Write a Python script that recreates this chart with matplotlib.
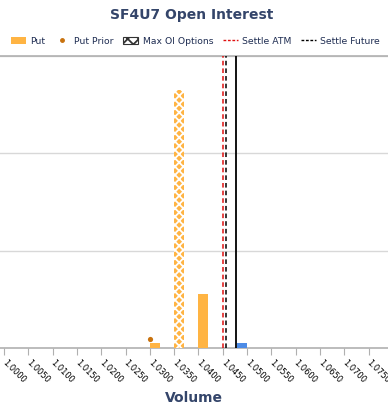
import matplotlib
matplotlib.use("Agg")
import matplotlib.pyplot as plt
import matplotlib.transforms as mtransforms
from matplotlib.patches import Patch
from matplotlib.lines import Line2D

# ---- data ----
strikes = [1.0000, 1.0050, 1.0100, 1.0150, 1.0200, 1.0250, 1.0300, 1.0350,
           1.0400, 1.0450, 1.0500, 1.0550, 1.0600, 1.0650, 1.0700, 1.0750]
tick_labels = ["1.0000", "1.0050", "1.0100", "1.0150", "1.0200", "1.0250",
               "1.0300", "1.0350", "1.0400", "1.0450", "1.0500", "1.0550",
               "1.0600", "1.0650", "1.0700", "1.0750"]
put_strikes = [1.0300, 1.0350, 1.0400]
put_oi = [50, 2650, 555]
put_max_flags = [False, True, False]
call_strikes = [1.0500]
call_oi = [50]
put_prior_strikes = [1.0300]
put_prior_oi = [95]
settle_atm = 1.0450
settle_future = 1.0456
last_price = 1.0477

ORANGE = "#FFB443"
BLUE = "#4C8BE6"
DOT = "#C8720E"
NAVY = "#1F2D52"
TITLE_C = "#34456A"

plt.rcParams["hatch.linewidth"] = 1.3

fig = plt.figure(figsize=(3.88, 4.09), dpi=100)
ax = fig.add_axes([0.0, 1 - 348 / 409, 1.0, (348 - 56) / 409])

bw = 0.00205
for s, v, m in zip(put_strikes, put_oi, put_max_flags):
    if m:
        ax.bar(s, v, width=bw, align="edge", color=ORANGE, edgecolor="white",
               hatch="xxxx", linewidth=0, zorder=3)
    else:
        ax.bar(s, v, width=bw, align="edge", color=ORANGE, linewidth=0, zorder=3)
ax.bar(call_strikes, call_oi, width=-bw, align="edge", color=BLUE, linewidth=0, zorder=3)
ax.scatter(put_prior_strikes, put_prior_oi, s=14, color=DOT, zorder=4, linewidths=0)

ax.axvline(settle_atm, color="#E01010", linestyle=(0, (3, 2)), linewidth=1.1, zorder=5)
ax.axvline(settle_future, color="black", linestyle=(0, (3, 2)), linewidth=1.1, zorder=5)
ax.axvline(last_price, color="black", linestyle="-", linewidth=1.3, zorder=5)

ax.set_xlim(0.99918, 1.07897)
ax.set_ylim(0, 3000)
ax.set_yticks([1000, 2000, 3000])
ax.yaxis.grid(True, color="#d8d8d8", linewidth=1.0)
ax.set_axisbelow(True)
ax.tick_params(axis="y", left=False, labelleft=False)
for sp in ["left", "right"]:
    ax.spines[sp].set_visible(False)
ax.spines["top"].set_color("#b0b0b0")
ax.spines["bottom"].set_color("#b0b0b0")
ax.spines["top"].set_linewidth(1.2)
ax.spines["bottom"].set_linewidth(1.2)

ax.set_xticks(strikes)
ax.set_xticklabels(tick_labels, rotation=-45, ha="left", va="top",
                   rotation_mode="anchor", fontsize=6, color="black")
ax.tick_params(axis="x", length=5, color="#b0b0b0", pad=2.5)
offset = mtransforms.ScaledTranslation(2 / 72, 0, fig.dpi_scale_trans)
for lbl in ax.get_xticklabels():
    lbl.set_transform(lbl.get_transform() + offset)

fig.text(194 / 388, 1 - 398 / 409, "Volume", ha="center", va="center",
         fontsize=10, fontweight="bold", color=TITLE_C)

fig.text(192 / 388, 1 - 15 / 409, "SF4U7 Open Interest", ha="center", va="center",
         fontsize=10, fontweight="bold", color=TITLE_C)

handles = [
    Patch(facecolor=ORANGE, edgecolor="none", label="Put"),
    Line2D([], [], marker="o", linestyle="none", markersize=2.5, color=DOT, label="Put Prior"),
    Patch(facecolor="white", edgecolor="#333333", hatch="xxx", linewidth=0.8, label="Max OI Options"),
    Line2D([], [], color="#E01010", linestyle=(0, (2, 1.2)), linewidth=1, label="Settle ATM"),
    Line2D([], [], color="black", linestyle=(0, (2, 1.2)), linewidth=1, label="Settle Future"),
]
leg = fig.legend(handles=handles, loc="center left", bbox_to_anchor=(11 / 388, 1 - 41 / 409),
                 ncol=5, frameon=False, fontsize=6.7, handlelength=1.6, handleheight=0.8,
                 handletextpad=0.5, columnspacing=1.0, borderaxespad=0, borderpad=0)
for t in leg.get_texts():
    t.set_color(NAVY)

fig.savefig("out.png", dpi=100)
